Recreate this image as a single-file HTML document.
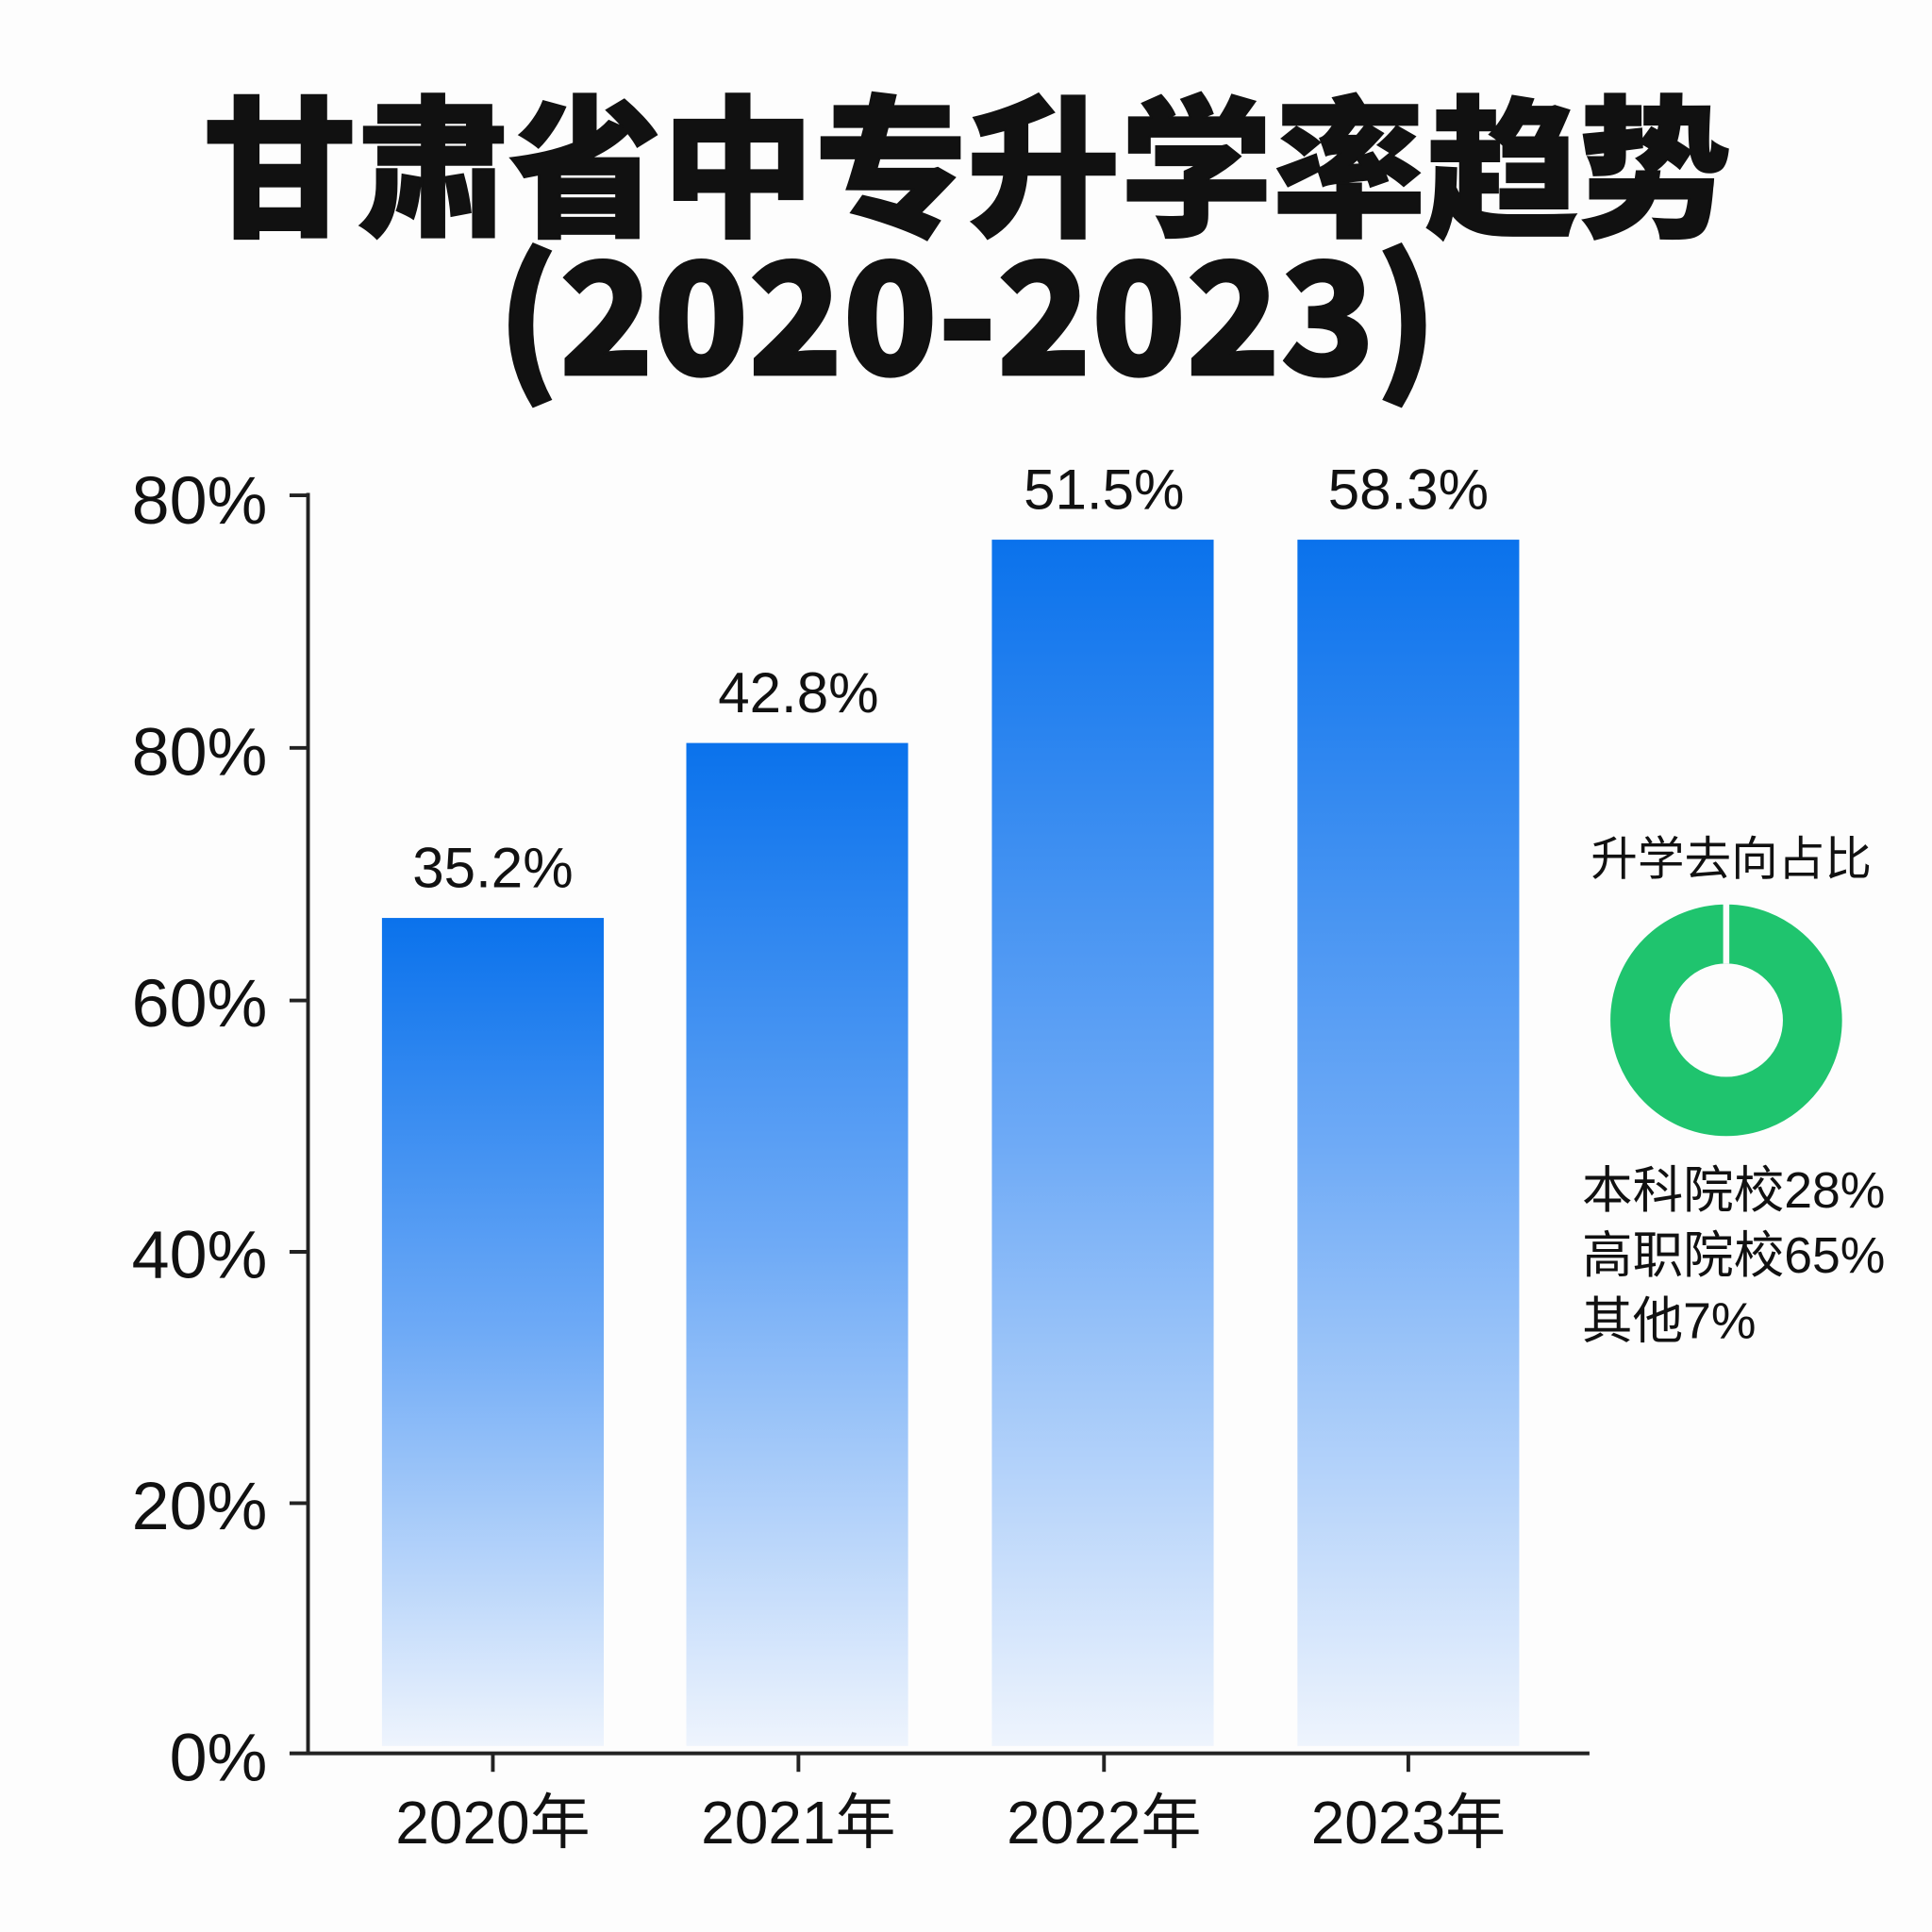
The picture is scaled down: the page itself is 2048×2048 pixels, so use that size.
<!DOCTYPE html>
<html><head><meta charset="utf-8"><style>
html,body{margin:0;padding:0;background:#fdfdfd;}
svg{display:block;}
text{font-family:"Liberation Sans","Noto Sans CJK SC",sans-serif;fill:#111;}
</style></head><body>
<svg width="2048" height="2048" viewBox="0 0 1568 1568" xmlns="http://www.w3.org/2000/svg">
<defs>
<linearGradient id="g" x1="0" y1="0" x2="0" y2="1">
<stop offset="0" stop-color="#0a72ec"/>
<stop offset="0.5" stop-color="#6eaaf6"/>
<stop offset="1" stop-color="#eef4fd"/>
</linearGradient>
</defs>
<rect width="1568" height="1568" fill="#fdfdfd"/>
<text x="785" y="182" text-anchor="middle" font-size="124" font-weight="900" style="font-family:'Noto Sans CJK SC',sans-serif" stroke="#111" stroke-width="1.5">甘肃省中专升学率趋势</text>
<text x="785" y="304" text-anchor="middle" font-size="126" font-weight="900" style="font-family:'Noto Sans CJK SC',sans-serif" stroke="#111" stroke-width="2">(2020-2023)</text>
<!-- bars -->
<rect x="310" y="745" width="180" height="672" fill="url(#g)"/>
<rect x="557" y="603" width="180" height="814" fill="url(#g)"/>
<rect x="805" y="438" width="180" height="979" fill="url(#g)"/>
<rect x="1053" y="438" width="180" height="979" fill="url(#g)"/>
<!-- axes -->
<g stroke="#222" stroke-width="3" fill="none">
<line x1="250" y1="400" x2="250" y2="1423"/>
<line x1="235" y1="1423" x2="1290" y2="1423"/>
<line x1="235" y1="402" x2="250" y2="402"/>
<line x1="235" y1="607" x2="250" y2="607"/>
<line x1="235" y1="812" x2="250" y2="812"/>
<line x1="235" y1="1016" x2="250" y2="1016"/>
<line x1="235" y1="1220" x2="250" y2="1220"/>
<line x1="400" y1="1423" x2="400" y2="1438"/>
<line x1="648" y1="1423" x2="648" y2="1438"/>
<line x1="896" y1="1423" x2="896" y2="1438"/>
<line x1="1143" y1="1423" x2="1143" y2="1438"/>
</g>
<g font-size="55" text-anchor="end">
<text x="217" y="425">80%</text>
<text x="217" y="629">80%</text>
<text x="217" y="833">60%</text>
<text x="217" y="1037">40%</text>
<text x="217" y="1241">20%</text>
<text x="217" y="1445">0%</text>
</g>
<g font-size="46" text-anchor="middle">
<text x="400" y="720">35.2%</text>
<text x="648" y="578">42.8%</text>
<text x="896" y="413">51.5%</text>
<text x="1143" y="413">58.3%</text>
</g>
<g font-size="49" text-anchor="middle">
<text x="400" y="1496">2020年</text>
<text x="648" y="1496">2021年</text>
<text x="896" y="1496">2022年</text>
<text x="1143" y="1496">2023年</text>
</g>
<text x="1405" y="710" text-anchor="middle" font-size="38">升学去向占比</text>
<circle cx="1401" cy="828" r="70" fill="none" stroke="#1fc46e" stroke-width="48"/>
<line x1="1401" y1="732" x2="1401" y2="782" stroke="#fdfdfd" stroke-width="5"/>
<g font-size="41">
<text x="1284" y="980">本科院校28%</text>
<text x="1284" y="1033">高职院校65%</text>
<text x="1284" y="1086">其他7%</text>
</g>
</svg>
</body></html>
